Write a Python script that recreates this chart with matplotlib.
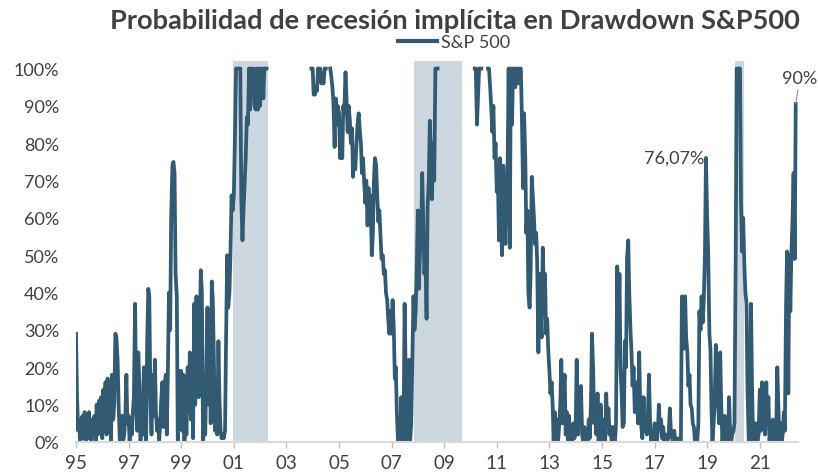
"""
Probabilidad de recesión implícita en el drawdown del S&P 500
"""

import numpy as np
import pandas as pd
import matplotlib
matplotlib.use("Agg")
import matplotlib.pyplot as plt
from matplotlib.lines import Line2D

plt.rcParams["font.family"] = ["Lato", "DejaVu Sans"]

nan = np.nan

# semi-monthly series (1st and 15th), starts Jan 1995
# nan = drawdown off the scale, not drawn
START = "1995-01-01"
prob = [
    # 1995
    0.29, 0.12, 0.03, 0.06, 0.00, 0.04, 0.07, 0.01, 0.08, 0.00, 0.06, 0.01,
    0.08, 0.02, 0.00, 0.06, 0.03, 0.07, 0.00, 0.10, 0.02, 0.11, 0.04, 0.12,
    # 1996
    0.01, 0.14, 0.03, 0.16, 0.02, 0.17, 0.05, 0.14, 0.00, 0.18, 0.06, 0.10,
    0.29, 0.28, 0.22, 0.10, 0.00, 0.04, 0.07, 0.00, 0.02, 0.06, 0.18, 0.05,
    # 1997
    0.07, 0.00, 0.05, 0.02, 0.08, 0.12, 0.37, 0.10, 0.03, 0.24, 0.15, 0.00,
    0.08, 0.02, 0.20, 0.05, 0.00, 0.26, 0.41, 0.39, 0.10, 0.02, 0.18, 0.07,
    # 1998
    0.22, 0.08, 0.03, 0.06, 0.00, 0.05, 0.12, 0.16, 0.04, 0.15, 0.18, 0.02,
    0.20, 0.40, 0.30, 0.60, 0.74, 0.75, 0.72, 0.45, 0.39, 0.00, 0.12, 0.19,
    # 1999
    0.19, 0.03, 0.18, 0.00, 0.10, 0.02, 0.20, 0.08, 0.24, 0.06, 0.21, 0.01,
    0.37, 0.10, 0.39, 0.25, 0.12, 0.30, 0.46, 0.40, 0.00, 0.05, 0.02, 0.18,
    # 2000
    0.36, 0.10, 0.30, 0.05, 0.43, 0.38, 0.20, 0.03, 0.10, 0.02, 0.27, 0.12,
    0.03, 0.01, 0.02, 0.01, 0.03, 0.27, 0.50, 0.36, 0.40, 0.50, 0.66, 0.62,
    # 2001
    0.66, 0.80, 1.00, 1.00, 1.00, 1.00, 1.00, 0.65, 0.54, 0.62, 0.70, 0.76,
    0.87, 0.85, 1.00, 0.89, 1.00, 0.95, 1.00, 0.90, 0.89, 1.00, 0.89, 1.00,
    # 2002
    0.90, 1.00, 1.00, 0.92, 1.00, 1.00, 1.00, nan, nan, nan, nan, nan,
    nan, nan, nan, nan, nan, nan, nan, nan, nan, nan, nan, nan,
    # 2003
    nan, nan, nan, nan, nan, nan, nan, nan, nan, nan, nan, nan,
    nan, nan, nan, nan, nan, nan, nan, nan, nan, nan, nan, 1.00,
    # 2004
    1.00, 0.93, 0.93, 0.95, 0.94, 1.00, 1.00, 1.00, 0.96, 0.97, 0.96, 1.00,
    1.00, nan, nan, nan, 1.00, 0.98, 0.95, 0.91, 0.79, 0.92, 0.85, 0.90,
    # 2005
    0.88, 0.76, 0.85, 0.76, 0.90, 0.88, 0.99, 0.92, 0.83, 0.90, 0.86, 0.80,
    0.84, 0.71, 0.78, 0.73, 0.80, 0.85, 0.88, 0.84, 0.80, 0.72, 0.76, 0.70,
    # 2006
    0.64, 0.70, 0.58, 0.68, 0.60, 0.66, 0.50, 0.55, 0.70, 0.76, 0.74, 0.66,
    0.59, 0.62, 0.55, 0.49, 0.50, 0.45, 0.46, 0.40, 0.38, 0.33, 0.29, 0.35,
    # 2007
    0.29, 0.38, 0.30, 0.17, 0.20, 0.08, 0.00, 0.04, 0.00, 0.12, 0.02, 0.00,
    0.37, 0.20, 0.00, 0.12, 0.22, 0.00, 0.05, 0.20, 0.39, 0.30, 0.35, 0.45,
    # 2008
    0.62, 0.41, 0.52, 0.55, 0.72, 0.60, 0.45, 0.50, 0.33, 0.63, 0.70, 0.86,
    0.76, 0.65, 0.80, 0.70, 1.00, 1.00, 1.00, nan, nan, nan, nan, nan,
    # 2009
    nan, nan, nan, nan, nan, nan, nan, nan, nan, nan, nan, nan,
    nan, nan, nan, nan, nan, nan, nan, nan, nan, nan, nan, nan,
    # 2010
    nan, nan, nan, nan, 1.00, 1.00, 0.85, 0.92, 1.00, 1.00, 1.00, nan,
    nan, nan, nan, nan, 1.00, 1.00, 0.95, 0.90, 0.83, 0.90, 0.76, 0.80,
    # 2011
    0.67, 0.72, 0.54, 0.76, 0.60, 0.50, 0.74, 0.60, 0.53, 0.65, 0.75, 1.00,
    0.52, 1.00, 0.85, 1.00, 1.00, 0.95, 1.00, 1.00, 0.96, 1.00, 1.00, 0.88,
    # 2012
    0.68, 0.88, 0.76, 0.56, 0.62, 0.40, 0.36, 0.45, 0.71, 0.66, 0.60, 0.53,
    0.56, 0.48, 0.24, 0.45, 0.35, 0.28, 0.52, 0.40, 0.45, 0.29, 0.33, 0.25,
    # 2013
    0.19, 0.13, 0.16, 0.10, 0.00, 0.08, 0.02, 0.06, 0.00, 0.04, 0.10, 0.22,
    0.05, 0.14, 0.18, 0.02, 0.08, 0.00, 0.07, 0.00, 0.03, 0.00, 0.05, 0.01,
    # 2014
    0.04, 0.22, 0.02, 0.10, 0.05, 0.15, 0.02, 0.00, 0.04, 0.00, 0.02, 0.00,
    0.06, 0.01, 0.10, 0.29, 0.19, 0.05, 0.10, 0.02, 0.13, 0.00, 0.04, 0.10,
    # 2015
    0.00, 0.06, 0.02, 0.00, 0.13, 0.04, 0.09, 0.02, 0.04, 0.00, 0.04, 0.01,
    0.00, 0.05, 0.47, 0.30, 0.45, 0.20, 0.13, 0.04, 0.05, 0.27, 0.20, 0.49,
    # 2016
    0.54, 0.40, 0.30, 0.24, 0.15, 0.20, 0.08, 0.12, 0.16, 0.05, 0.24, 0.10,
    0.04, 0.01, 0.12, 0.03, 0.06, 0.02, 0.08, 0.18, 0.04, 0.00, 0.02, 0.00,
    # 2017
    0.05, 0.01, 0.00, 0.03, 0.10, 0.04, 0.06, 0.01, 0.04, 0.00, 0.02, 0.00,
    0.00, 0.02, 0.09, 0.03, 0.01, 0.00, 0.03, 0.00, 0.00, 0.01, 0.00, 0.00,
    # 2018
    0.00, 0.39, 0.30, 0.25, 0.39, 0.28, 0.24, 0.15, 0.18, 0.10, 0.09, 0.05,
    0.04, 0.00, 0.02, 0.00, 0.05, 0.35, 0.30, 0.39, 0.32, 0.38, 0.50, 0.7607,
    # 2019
    0.60, 0.51, 0.29, 0.25, 0.10, 0.00, 0.05, 0.10, 0.26, 0.20, 0.12, 0.05,
    0.24, 0.10, 0.00, 0.05, 0.07, 0.00, 0.05, 0.00, 0.12, 0.03, 0.00, 0.02,
    # 2020
    0.03, 0.05, 0.49, 1.00, 1.00, 1.00, 1.00, 0.64, 0.51, 0.60, 0.47, 0.40,
    0.37, 0.13, 0.00, 0.05, 0.37, 0.15, 0.00, 0.05, 0.05, 0.00, 0.00, 0.02,
    # 2021
    0.14, 0.03, 0.16, 0.06, 0.06, 0.02, 0.16, 0.05, 0.12, 0.00, 0.03, 0.00,
    0.06, 0.00, 0.00, 0.01, 0.20, 0.10, 0.00, 0.05, 0.00, 0.02, 0.08, 0.03,
    # 2022
    0.37, 0.51, 0.13, 0.50, 0.35, 0.50, 0.60, 0.72, 0.49, 0.905,
]

# shaded recessions
rec_start = ["2000-12-15", "2007-11-15", "2020-01-20"]
rec_end = ["2002-04-15", "2009-09-10", "2020-05-25"]

tick_years = list(range(1995, 2022, 2))
y_ticks = [0.0, 0.1, 0.2, 0.3, 0.4, 0.5, 0.6, 0.7, 0.8, 0.9, 1.0]
y_labels = ["0%", "10%", "20%", "30%", "40%", "50%", "60%", "70%", "80%", "90%", "100%"]

peak_label = "76,07%"
last_label = "90%"

LINE = "#335a73"
BAND = "#cdd7df"
TEXT = "#404040"

dates = pd.date_range(START, periods=len(prob), freq="SMS")
s = pd.Series(prob, index=dates)

fig = plt.figure(figsize=(8.18, 4.77), dpi=100)
ax = fig.add_axes([0.0929, 0.0713, 0.8826, 0.7994])

for a, b in zip(rec_start, rec_end):
    ax.axvspan(pd.Timestamp(a), pd.Timestamp(b), color=BAND, lw=0, zorder=0)

ax.plot(s.index, s.values, color=LINE, lw=2.7, zorder=2)

ax.set_xlim(pd.Timestamp("1995-01-01"), pd.Timestamp("2022-06-15"))
ax.set_ylim(0, 1.021)

ax.set_yticks(y_ticks)
ax.set_yticklabels(y_labels)
ax.set_xticks([pd.Timestamp(f"{y}-01-01") for y in tick_years])
ax.set_xticklabels([f"{y % 100:02d}" for y in tick_years])

for side in ["top", "right", "left"]:
    ax.spines[side].set_visible(False)
ax.spines["bottom"].set_color("#d9d9d9")
ax.spines["bottom"].set_linewidth(1.5)

ax.tick_params(axis="y", length=0, pad=12, labelsize=13, labelcolor=TEXT)
ax.tick_params(axis="x", length=4, width=1, color="#bfbfbf", pad=5,
               labelsize=13.5, labelcolor=TEXT)

# labels on the 2018 peak and on the last point
peak_date = s.loc["2018"].idxmax()
ax.annotate(peak_label, xy=(peak_date, s[peak_date]), xytext=(-1, 0),
            textcoords="offset points", ha="right", va="center",
            fontsize=13, color=TEXT)
ax.annotate(last_label, xy=(s.index[-1], s.iloc[-1]), xytext=(3, 19),
            textcoords="offset points", ha="center", va="center",
            fontsize=13, color=TEXT, annotation_clip=False,
            arrowprops=dict(arrowstyle="-", color="#8c8c8c", lw=0.8,
                            shrinkA=1, shrinkB=0))

fig.text(0.978, 0.957, "Probabilidad de recesión implícita en Drawdown S&P500",
         ha="right", va="center", fontsize=19.6, fontweight="bold", color=TEXT)

handle = Line2D([], [], color=LINE, lw=3)
fig.legend([handle], ["S&P 500"], loc="center", bbox_to_anchor=(0.555, 0.909),
           frameon=False, fontsize=13, handlelength=2.2, handletextpad=0.2,
           labelcolor=TEXT)

fig.savefig("out.png", dpi=100)
